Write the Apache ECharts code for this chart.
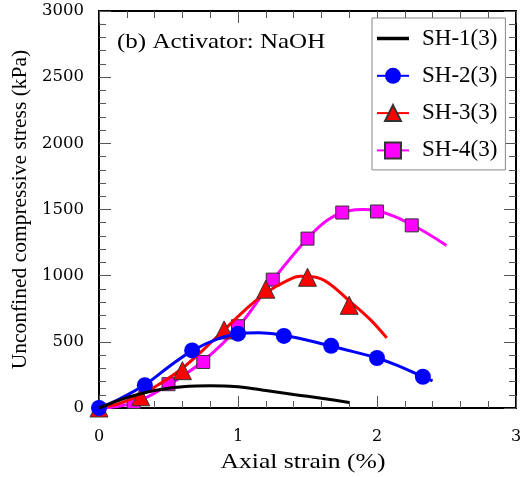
<!DOCTYPE html>
<html><head><meta charset="utf-8">
<script src="https://cdn.jsdelivr.net/npm/echarts@6/dist/echarts.min.js"></script>
<style>html,body{margin:0;padding:0;background:#fff}#c{width:527px;height:477px}</style>
</head><body><div id="c"></div>
<script>
// ---- data ----
const seriesNames = ['SH-1(3)', 'SH-2(3)', 'SH-3(3)', 'SH-4(3)'];
const xTicks = [0, 1, 2, 3];
const yTicks = [0, 500, 1000, 1500, 2000, 2500, 3000];

// SH-1: curve only
const sh1CurveX = [0, 0.1, 0.2, 0.3, 0.4, 0.5, 0.6, 0.7, 0.8, 0.9, 1.0, 1.1, 1.2, 1.3, 1.4, 1.5, 1.6, 1.7, 1.8];
const sh1CurveY = [0, 40, 78, 108, 132, 150, 160, 166, 168, 167, 160, 147, 132, 117, 102, 88, 73, 58, 42];

// SH-2
const sh2MarkX = [0, 0.33, 0.67, 1.0, 1.33, 1.67, 2.0, 2.33];
const sh2MarkY = [0, 172, 435, 562, 545, 470, 378, 236];
const sh2CurveX = [0, 0.15, 0.33, 0.5, 0.67, 0.85, 1.0, 1.15, 1.33, 1.5, 1.67, 1.85, 2.0, 2.15, 2.33, 2.4];
const sh2CurveY = [0, 70, 175, 310, 432, 520, 560, 568, 548, 512, 468, 420, 378, 320, 236, 205];

// SH-3
const sh3MarkX = [0, 0.3, 0.6, 0.9, 1.2, 1.5, 1.8];
const sh3MarkY = [0, 85, 282, 590, 898, 988, 776];
const sh3CurveX = [0, 0.15, 0.3, 0.45, 0.6, 0.75, 0.9, 1.05, 1.2, 1.35, 1.45, 1.55, 1.65, 1.8, 1.95, 2.07];
const sh3CurveY = [0, 35, 100, 190, 300, 440, 590, 740, 870, 960, 995, 990, 945, 810, 670, 530];

// SH-4
const sh4MarkX = [0.25, 0.5, 0.75, 1.0, 1.25, 1.5, 1.75, 2.0, 2.25];
const sh4MarkY = [45, 180, 348, 618, 970, 1280, 1477, 1485, 1380];
const sh4CurveX = [0, 0.25, 0.5, 0.75, 1.0, 1.25, 1.5, 1.65, 1.8, 1.9, 2.0, 2.25, 2.5];
const sh4CurveY = [0, 40, 175, 355, 610, 965, 1280, 1425, 1490, 1500, 1490, 1385, 1228];

const colors = ['#000000', '#0000FF', '#FF0000', '#FF00FF'];
const symbols = ['none', 'circle', 'triangle', 'rect'];
const symbolSizes = [0, 16, 18, 13];

function zip(xs, ys) { return xs.map((x, i) => [x, ys[i]]); }

const curves = [zip(sh1CurveX, sh1CurveY), zip(sh2CurveX, sh2CurveY), zip(sh3CurveX, sh3CurveY), zip(sh4CurveX, sh4CurveY)];
const marks = [null, zip(sh2MarkX, sh2MarkY), zip(sh3MarkX, sh3MarkY), zip(sh4MarkX, sh4MarkY)];
const zOrder = [8, 6, 4, 2];

const FONT = '"Liberation Serif", "Times New Roman", serif';
const NUMFONT = '"DejaVu Serif", serif';
const series = [];
seriesNames.forEach((name, i) => {
  series.push({
    name: name, type: 'line', data: curves[i], smooth: 0.4,
    showSymbol: false, symbol: i === 0 ? 'none' : symbols[i], symbolSize: symbolSizes[i],
    lineStyle: { color: colors[i], width: 3 },
    itemStyle: { color: colors[i], borderColor: i >= 2 ? '#333' : colors[i], borderWidth: i >= 2 ? 1 : 0 },
    z: zOrder[i], silent: true
  });
  if (marks[i]) {
    series.push({
      type: 'scatter', data: marks[i], symbol: symbols[i], symbolSize: symbolSizes[i],
      itemStyle: { color: colors[i], borderColor: i >= 2 ? '#333' : colors[i], borderWidth: i >= 2 ? 1 : 0, opacity: 1 },
      z: zOrder[i] + 1, silent: true
    });
  }
});

function xAxisOf(pos, showLabel) {
  return {
    type: 'value', min: 0, max: 3, interval: 1, position: pos,
    axisLine: { show: true, onZero: false, lineStyle: { color: '#000', width: 2 } },
    axisTick: { show: true, inside: true, length: 12, lineStyle: { color: '#555', width: 1 } },
    minorTick: { show: true, splitNumber: 5, length: 7, lineStyle: { color: '#555', width: 1 } },
    splitLine: { show: false }, minorSplitLine: { show: false },
    axisLabel: showLabel ? { margin: 21, fontFamily: NUMFONT, fontSize: 16, color: '#000',
      formatter: v => xTicks.includes(v) ? String(v) : '' } : { show: false }
  };
}
function yAxisOf(pos, showLabel) {
  return {
    type: 'value', min: 0, max: 3000, interval: 500, position: pos,
    axisLine: { show: true, onZero: false, lineStyle: { color: '#000', width: 2 } },
    axisTick: { show: true, inside: true, length: 12, lineStyle: { color: '#555', width: 1 } },
    minorTick: { show: true, splitNumber: 5, length: 7, lineStyle: { color: '#555', width: 1 } },
    splitLine: { show: false }, minorSplitLine: { show: false },
    axisLabel: showLabel ? { margin: 15, fontFamily: NUMFONT, fontSize: 16.5, color: '#000',
      formatter: v => yTicks.includes(v) ? String(v) : '' } : { show: false }
  };
}

const yAx = yAxisOf('left', true);
yAx.name = 'Unconfined compressive stress (kPa)';
yAx.nameLocation = 'middle';
yAx.nameGap = 59;
yAx.nameTextStyle = { fontFamily: FONT, fontSize: 21.5, color: '#000' };

const chart = echarts.init(document.getElementById('c'), null, { renderer: 'canvas' });
chart.setOption({
  animation: false,
  backgroundColor: '#fff',
  textStyle: { fontFamily: FONT },
  grid: { left: 99, right: 11, top: 11, bottom: 69, containLabel: false, outerBoundsMode: 'none', show: false },
  xAxis: [xAxisOf('bottom', true), xAxisOf('top', false)],
  yAxis: [yAx, yAxisOf('right', false)],
  legend: {
    data: [
      { name: 'SH-1(3)', icon: 'path://M0,0 L32,0 L32,3.5 L0,3.5 Z' },
      'SH-2(3)', 'SH-3(3)', 'SH-4(3)'
    ],
    orient: 'vertical', left: 372, top: 18,
    itemWidth: 32, itemHeight: 20, itemGap: 14.3,
    padding: [9, 8, 8, 4],
    backgroundColor: '#fff', borderColor: '#888', borderWidth: 1,
    textStyle: { fontFamily: FONT, fontSize: 23, color: '#000', padding: [0, 0, 0, 8] },
    selectedMode: false, z: 20
  },
  graphic: [{
    type: 'text', x: 117, y: 42, scaleX: 1.19,
    style: { text: '(b) Activator: NaOH', fontFamily: FONT, fontSize: 21, fill: '#000', verticalAlign: 'middle', align: 'left' }
  }, {
    type: 'text', x: 303, y: 462, scaleX: 1.19,
    style: { text: 'Axial strain (%)', fontFamily: FONT, fontSize: 21.5, fill: '#000', verticalAlign: 'middle', align: 'center' }
  }],
  series: series
});
</script></body></html>
